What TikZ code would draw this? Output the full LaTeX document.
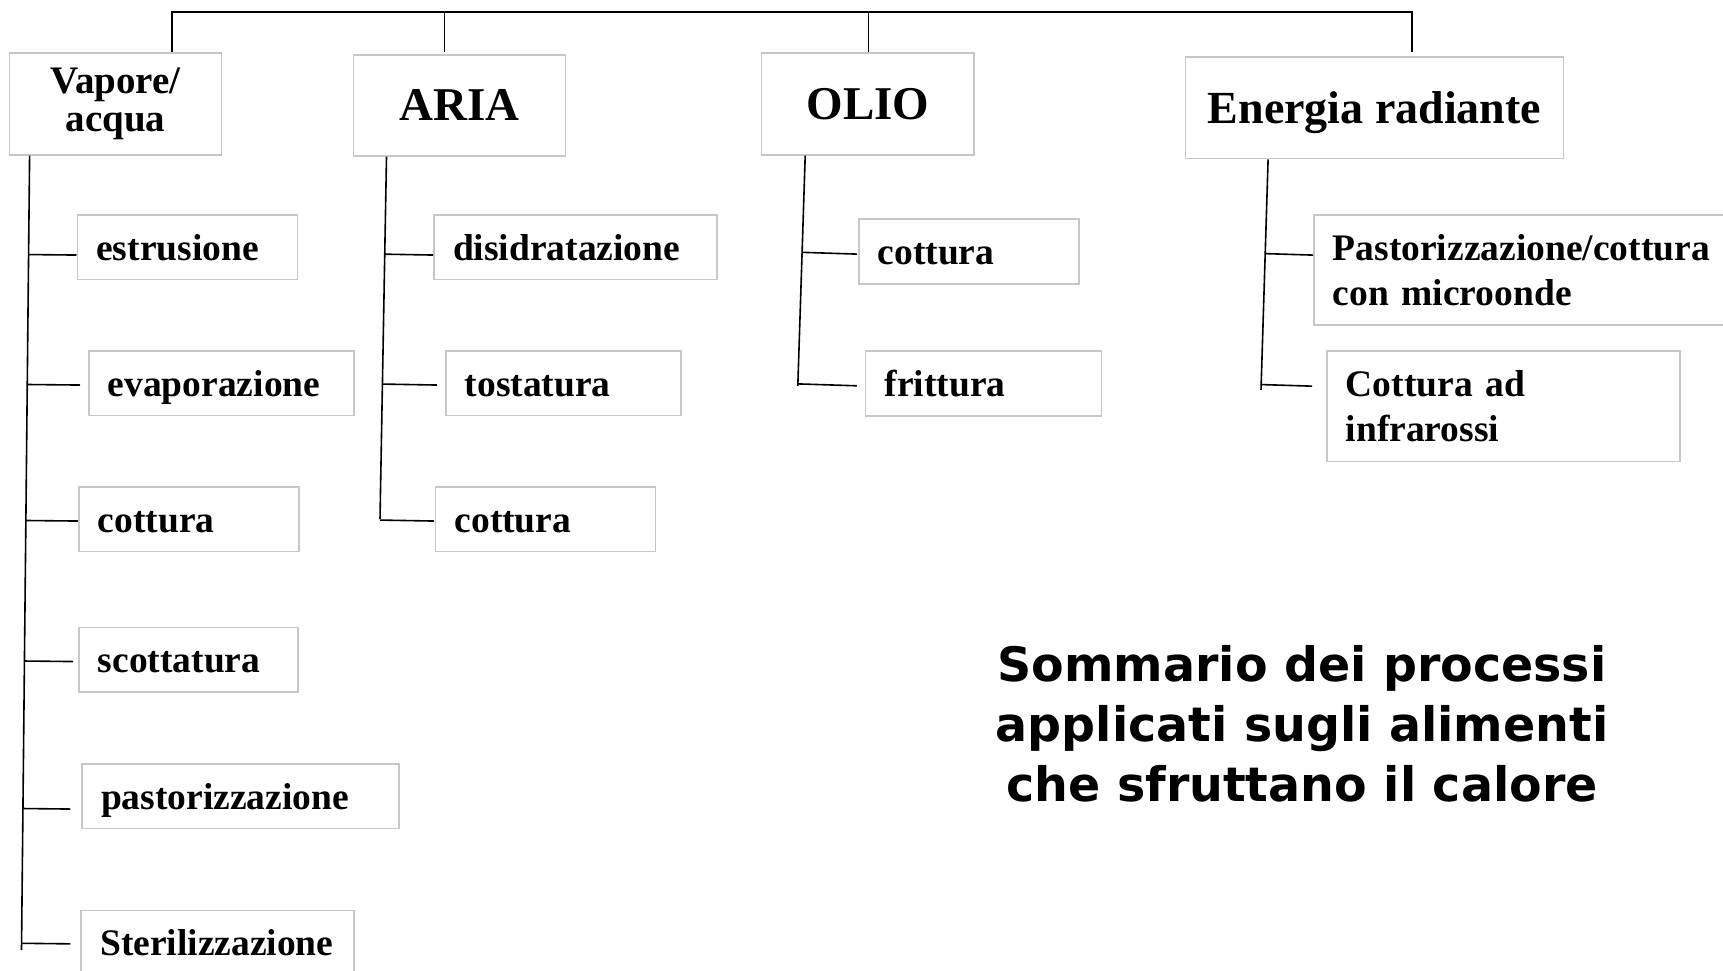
\documentclass[tikz,border=0pt]{standalone}
\usepackage{fontspec}
\setmainfont{Liberation Serif}
\newfontfamily\titlefont{DejaVu Sans}
\usetikzlibrary{calc}
\tikzset{
  wire/.style={line width=1.6pt},
  cell/.style={draw=black!22, line width=1.6pt, anchor=north west, inner ysep=0pt},
  head/.style={cell, inner xsep=0pt, align=center, font=\fontsize{47}{47}\selectfont\bfseries},
  pair/.style={cell, inner xsep=19pt, align=left, font=\fontsize{37.5}{44.5}\selectfont\bfseries},
  leaf/.style={pair, minimum height=64.5pt, text height=26pt, text depth=0pt}
}
\begin{document}
\begin{tikzpicture}[x=1pt,y=-1pt]
  \useasboundingbox (0,0) rectangle (1723,971);
  \fill[white] (0,0) rectangle (1723,971);
  \clip (0,0) rectangle (1723,971);

  \node[head, minimum width=212pt, minimum height=101.5pt, font=\fontsize{39}{37.5}\selectfont\bfseries] (vap) at (8.8,52.5) {Vapore/\\acqua};
  \node[head, minimum width=212pt, minimum height=101pt] (aria) at (352.7,54) {ARIA};
  \node[head, minimum width=212.6pt, minimum height=101.7pt] (olio) at (760.7,52.3) {OLIO};
  \node[head, minimum width=378pt, minimum height=101.7pt, text height=32pt, text depth=0pt, font=\fontsize{46}{46}\selectfont\bfseries] (ener) at (1184.7,56) {Energia radiante};

  \node[leaf, text width=182pt] (estr) at (76.5,214) {estrusione};
  \node[leaf, text width=227pt] (evap) at (88,350) {evaporazione};
  \node[leaf, text width=182pt] (vcot) at (78,486) {cottura};
  \node[leaf, text width=181pt] (scott) at (78,626.5) {scottatura};
  \node[leaf, text width=279pt] (past) at (81.3,763) {pastorizzazione};
  \node[leaf, text width=235pt] (steril) at (80.4,909.8) {Sterilizzazione};

  \node[leaf, text width=245pt] (disid) at (433.2,214) {disidratazione};
  \node[leaf, text width=197pt] (tost) at (445,350) {tostatura};
  \node[leaf, text width=182pt] (acot) at (434.8,486) {cottura};

  \node[leaf, text width=182pt, minimum height=65pt] (ocot) at (857.9,218.3) {cottura};
  \node[leaf, text width=198pt, minimum height=65pt] (fritt) at (864.8,350) {frittura};

  \node[pair, text width=392pt, minimum height=110pt] (micro) at (1313,214.3) {Pastorizzazione/cottura\\con microonde};
  \node[pair, text width=315pt, minimum height=110.7pt] (infra) at (1326,350) {Cottura ad\\infrarossi};

  \coordinate (bus) at (0,12);
  \draw[wire] ([xshift=56.5pt]vap.north) -- ([xshift=56.5pt]vap.north |- bus) -- ([xshift=37.3pt]ener.north |- bus) -- ([xshift=37.3pt,yshift=4pt]ener.north);
  \draw[wire] ([xshift=-15pt,yshift=2pt]aria.north) -- ([xshift=-15pt]aria.north |- bus);
  \draw[wire] ([xshift=0.6pt]olio.north) -- ([xshift=0.6pt]olio.north |- bus);

  \coordinate (vap-t) at ([xshift=-86pt]vap.south);
  \coordinate (vap-b) at (21.5,950);
  \coordinate (aria-t) at ([xshift=-73pt]aria.south);
  \coordinate (aria-b) at (380,519);
  \coordinate (olio-t) at ([xshift=-62.6pt]olio.south);
  \coordinate (olio-b) at (797.8,386);
  \coordinate (ener-t) at ([xshift=-106.4pt]ener.south);
  \coordinate (ener-b) at (1261,390);
  \foreach \tr in {vap,aria,olio,ener}
    \draw[wire] (\tr-t) -- (\tr-b);

  \foreach \tr/\bx/\gp/\dy in {vap/estr/0/8, vap/evap/8/2, vap/vcot/0/2, vap/scott/5/2, vap/past/11/13, vap/steril/10/1,
      aria/disid/0/8, aria/tost/8/2, aria/acot/1/2, olio/ocot/1/2.5, olio/fritt/8/2.5, ener/micro/0/-15, ener/infra/14/-20}{
    \coordinate (e) at ($(\bx.west)+(-\gp,\dy)$);
    \draw[wire] ($(\tr-t)!(e)!(\tr-b)$) -- (e);
  }

  \node[font=\titlefont\fontsize{47.5}{60}\selectfont\bfseries, align=center] (title) at (1302,724) {Sommario dei processi\\applicati sugli alimenti\\che sfruttano il calore};
\end{tikzpicture}
\end{document}
